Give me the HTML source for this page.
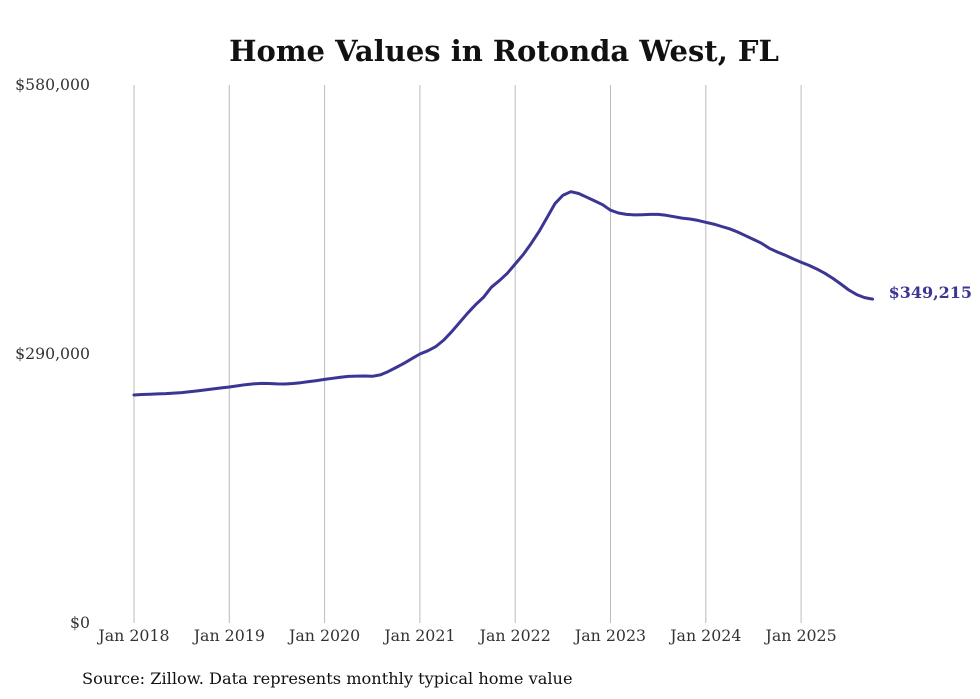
<!DOCTYPE html>
<html><head><meta charset="utf-8"><style>
body{margin:0;background:#fff;width:980px;height:699px;overflow:hidden;font-family:"DejaVu Serif","Liberation Serif",serif;}
svg{display:block}
</style></head><body>
<svg id="chart" width="980" height="699" xmlns="http://www.w3.org/2000/svg" font-family="DejaVu Serif, Liberation Serif, serif">
<text x="504" y="61" text-anchor="middle" font-size="29" font-weight="bold" fill="#111">Home Values in Rotonda West, FL</text>
<g id="grid"></g><g id="yaxis"></g><g id="xaxis"></g><g id="series"></g>
<text x="82" y="684" font-size="16.2" fill="#111">Source: Zillow. Data represents monthly typical home value</text>
</svg>
<script>
const yTicks=[0,290000,580000];
const yTickLabels=["$0","$290,000","$580,000"];
const xTickYears=[2018,2019,2020,2021,2022,2023,2024,2025];
const xTickLabels=["Jan 2018","Jan 2019","Jan 2020","Jan 2021","Jan 2022","Jan 2023","Jan 2024","Jan 2025"];
const startYear=2018;
const values=[
245.8,246.3,246.7,247,247.3,247.8,248.4,249.2,250.2,251.3,252.4,253.4,
254.4,255.6,256.9,257.8,258.3,258.2,257.8,257.7,258.2,259.1,260.2,261.3,
262.6,263.8,264.9,265.8,266.2,266.3,266,267.5,271,275.5,280,285,
290,293.5,298,305,314,324,334,343,351,362,369,377,
387,397,409,422,437,452,461,465,463,459,455,451,
445,442,440.5,440,440.2,440.5,440.5,439.5,438,436.5,435.5,434,
432,430,427.5,425,421.5,417.5,413.5,409.5,404,400,396.5,392.5,
389,385.5,381.5,377,371.5,365.5,359,354,350.8,349.215
].map(v=>v*1000);
const endLabel="$349,215";
const NS="http://www.w3.org/2000/svg";
const x0=134,yearW=95.3,yTop=85,yBot=623,yMax=580000;
const X=m=>x0+m*yearW/12;
const Y=v=>yBot-v/yMax*(yBot-yTop);
function mk(tag,attrs,parent){const e=document.createElementNS(NS,tag);for(const k in attrs)e.setAttribute(k,attrs[k]);parent.appendChild(e);return e;}
const grid=document.getElementById('grid'),ya=document.getElementById('yaxis'),xa=document.getElementById('xaxis'),se=document.getElementById('series');
xTickYears.forEach((yr,i)=>{
 const x=X((yr-startYear)*12);
 const l=mk('line',{x1:x,x2:x,y1:yTop,y2:yBot,stroke:'#bbb','stroke-width':1},grid);
 
 
 const t=mk('text',{x:x,y:641,'text-anchor':'middle','font-size':15.8,fill:'#333'},xa);
 t.textContent=xTickLabels[i];
 
 
});
yTicks.forEach((v,i)=>{
 const t=mk('text',{x:90,y:Y(v)+5,'text-anchor':'end','font-size':15.7,fill:'#333'},ya);
 t.textContent=yTickLabels[i];
 
 
});
const d=values.map((v,i)=>(i?'L':'M')+X(i).toFixed(1)+','+Y(v).toFixed(1)).join(' ');
const p=mk('path',{d:d,fill:'none',stroke:'#3b3593','stroke-width':3,'stroke-linejoin':'round','stroke-linecap':'round'},se);


const li=values.length-1;
const el=mk('text',{x:X(li)+16,y:Y(values[li])-1,'font-size':16,'font-weight':'bold',fill:'#3b3593'},se);
el.textContent=endLabel;


</script>
</body></html>
